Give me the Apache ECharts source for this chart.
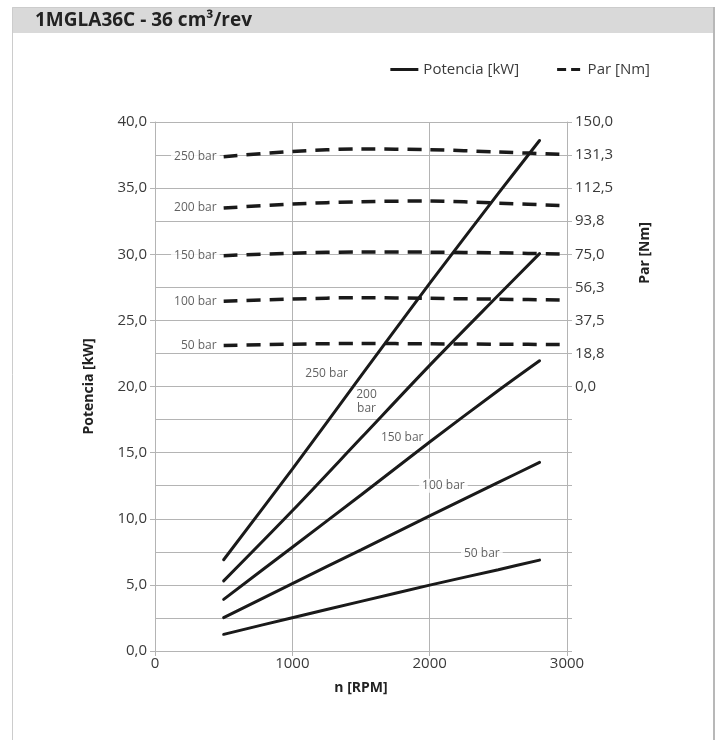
<!DOCTYPE html>
<html>
<head>
<meta charset="utf-8">
<script src="https://cdn.jsdelivr.net/npm/echarts@6/dist/echarts.min.js"></script>
<style>
html,body{margin:0;padding:0;background:#fff;}
#chart{width:723px;height:740px;}
</style>
</head>
<body>
<div id="chart"></div>
<script>
// ---- data ----
const pressureNames = ['250 bar', '200 bar', '150 bar', '100 bar', '50 bar'];

const rpmPower = [500, 1000, 1500, 2000, 2500, 2800];
const power250 = [6.9, 13.75, 20.8, 27.8, 34.6, 38.6];
const power200 = [5.3, 10.6, 16.1, 21.6, 26.9, 30.05];
const power150 = [3.9, 7.85, 11.8, 15.8, 19.7, 21.95];
const power100 = [2.52, 5.1, 7.65, 10.22, 12.75, 14.26];
const power50 = [1.26, 2.52, 3.75, 4.98, 6.15, 6.87];

const rpmTorque = [500, 1000, 1500, 2000, 2500, 3000];
const torque250 = [130.3, 133.3, 134.7, 134.3, 133.0, 131.5];
const torque200 = [101.2, 103.5, 104.8, 105.2, 104.0, 102.5];
const torque150 = [74.2, 75.6, 76.3, 76.2, 75.8, 75.0];
const torque100 = [48.3, 49.6, 50.4, 50.0, 49.5, 49.0];
const torque50 = [23.3, 24.0, 24.4, 24.2, 24.0, 23.8];

const powerLabelText = ['250 bar', '200\nbar', '150 bar', '100 bar', '50 bar'];
const powerLabelRpm = [1250, 1540, 1800, 2100, 2380];
const powerLabelKw = [21.0, 18.85, 16.1, 12.5, 7.35];

const xTicks = {min: 0, max: 3000, interval: 1000};
const leftTicks = {min: 0, max: 40, interval: 5};
const rightTicks = {min: -150, max: 150, interval: 18.75};

// ---- build ----
const FONT = '"Open Sans", "Noto Sans", sans-serif';
const TXT = '#3a3a3a';
const GRID = '#b4b4b4';
const powerSets = [power250, power200, power150, power100, power50];
const torqueSets = [torque250, torque200, torque150, torque100, torque50];

function comma(v) { return v.toFixed(1).replace('.', ','); }

const series = [];
powerSets.forEach(function (set) {
  series.push({
    name: 'Potencia [kW]', type: 'line', yAxisIndex: 0,
    data: rpmPower.map(function (r, i) { return [r, set[i]]; }),
    symbol: 'none', smooth: 0.3,
    lineStyle: {color: '#1a1a1a', width: 3, cap: 'round'},
    itemStyle: {color: '#1a1a1a'},
    z: 4
  });
});
torqueSets.forEach(function (set) {
  series.push({
    name: 'Par [Nm]', type: 'line', yAxisIndex: 1,
    data: rpmTorque.map(function (r, i) { return [r, set[i]]; }),
    symbol: 'none', smooth: 0.3,
    lineStyle: {color: '#1a1a1a', width: 3.5, type: [14, 9]},
    itemStyle: {color: '#1a1a1a'},
    z: 3
  });
});
// pressure labels at the start of the torque curves
series.push({
  name: 'torqueLabels', type: 'scatter', yAxisIndex: 1,
  data: torqueSets.map(function (set, k) { return [rpmTorque[0], set[0], pressureNames[k]]; }),
  symbolSize: 0, silent: true,
  label: {
    show: true, position: 'left', distance: 4, formatter: function (p) { return p.data[2]; },
    color: TXT, fontSize: 12, fontFamily: FONT,
    backgroundColor: '#fff', padding: [1, 3]
  },
  z: 2
});
// pressure labels along the power curves
series.push({
  name: 'powerLabels', type: 'scatter', yAxisIndex: 0,
  data: powerLabelRpm.map(function (r, i) { return [r, powerLabelKw[i], powerLabelText[i]]; }),
  symbolSize: 0, silent: true,
  label: {
    show: true, position: 'inside', formatter: function (p) { return p.data[2]; },
    color: TXT, fontSize: 12, fontFamily: FONT, lineHeight: 14,
    backgroundColor: '#fff', padding: [0, 3]
  },
  z: 2
});

const chart = echarts.init(document.getElementById('chart'), null, {renderer: 'canvas'});
chart.setOption({
  animation: false,
  backgroundColor: '#fff',
  title: {
    text: '1MGLA36C - 36 cm³/rev', left: 30, top: 6,
    textStyle: {fontFamily: FONT, fontSize: 19, fontWeight: 'bold', color: '#222'}
  },
  graphic: [
    {type: 'rect', z: -10, shape: {x: 12, y: 7, width: 702, height: 26}, style: {fill: '#d9d9d9'}},
    {type: 'rect', z: -10, shape: {x: 12.5, y: 7.5, width: 701, height: 740}, style: {fill: 'none', stroke: '#cccccc', lineWidth: 1}},
    {type: 'line', z: -9, shape: {x1: 714, y1: 7, x2: 714, y2: 740}, style: {stroke: '#b8b8b8', lineWidth: 2}},
    {type: 'text', x: 645, y: 253, rotation: Math.PI / 2,
      style: {text: 'Par [Nm]', fill: '#222', font: 'bold 14px ' + FONT, align: 'center', verticalAlign: 'middle'}}
  ],
  legend: {
    data: [
      {name: 'Potencia [kW]', icon: 'path://M0,0H28V3H0Z'},
      {name: 'Par [Nm]', icon: 'path://M0,0H9V3H0Z M14,0H23V3H14Z'}
    ],
    right: 68, top: 57, itemWidth: 28, itemHeight: 3, itemGap: 38,
    itemStyle: {color: '#1a1a1a'},
    textStyle: {fontFamily: FONT, fontSize: 15, color: TXT}
  },
  grid: {left: 155, right: 156, top: 122, bottom: 89, containLabel: false},
  xAxis: {
    type: 'value', min: xTicks.min, max: xTicks.max, interval: xTicks.interval,
    name: 'n [RPM]', nameLocation: 'middle', nameGap: 30,
    nameTextStyle: {fontFamily: FONT, fontSize: 14, fontWeight: 'bold', color: '#222'},
    axisLine: {lineStyle: {color: GRID}},
    axisTick: {show: true, length: 5, lineStyle: {color: GRID}},
    axisLabel: {fontFamily: FONT, fontSize: 15, color: TXT, margin: 5,
      formatter: function (v) { return String(v); }},
    splitLine: {show: true, lineStyle: {color: GRID}}
  },
  yAxis: [
    {
      type: 'value', position: 'left', min: leftTicks.min, max: leftTicks.max, interval: leftTicks.interval,
      name: 'Potencia [kW]', nameLocation: 'middle', nameGap: 59, nameRotate: 90,
      nameTextStyle: {fontFamily: FONT, fontSize: 14, fontWeight: 'bold', color: '#222'},
      axisLine: {show: true, lineStyle: {color: GRID}},
      axisTick: {show: true, length: 5, lineStyle: {color: GRID}},
      axisLabel: {fontFamily: FONT, fontSize: 15, color: TXT, margin: 8, formatter: comma},
      splitLine: {show: false}
    },
    {
      type: 'value', position: 'right', min: rightTicks.min, max: rightTicks.max, interval: rightTicks.interval,
      axisLine: {show: true, lineStyle: {color: GRID}},
      axisTick: {show: true, length: 5, lineStyle: {color: GRID}},
      axisLabel: {fontFamily: FONT, fontSize: 15, color: TXT, margin: 8,
        formatter: function (v) { return v < -1e-6 ? '' : comma(v); }},
      splitLine: {show: true, lineStyle: {color: GRID}}
    }
  ],
  series: series
});
</script>
</body>
</html>
